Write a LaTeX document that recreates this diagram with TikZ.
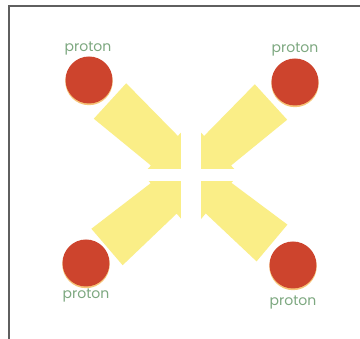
\documentclass[tikz,border=0pt]{standalone}
\usepackage{fontspec}
\setmainfont{Poppins}
\usetikzlibrary{calc}
\definecolor{arrowyellow}{RGB}{250,238,135}
\definecolor{protonred}{RGB}{205,68,45}
\definecolor{protonrim}{RGB}{246,196,120}
\definecolor{labelgreen}{RGB}{125,168,128}
\definecolor{framegray}{RGB}{95,95,95}
\tikzset{
  proton/.style={circle,fill=protonred,minimum size=47pt,inner sep=0pt},
  rim/.style={fill=protonrim},
  plabel/.style={text=labelgreen,inner sep=0pt,font=\fontsize{14}{16}\selectfont},
  bigarrow/.style={fill=arrowyellow},
  gap/.style={fill=white},
  frameline/.style={draw=framegray,line width=1.2pt}
}
\begin{document}
\begin{tikzpicture}[x=1pt,y=-1pt]
\useasboundingbox (0,0) rectangle (360,339);
\fill[white] (0,0) rectangle (360,339);
\draw[frameline] (9,339) -- (9,6) -- (360,6);
% centre and arrow tails
\coordinate (C) at (191,175);
\coordinate (tTL) at (110,101);
\coordinate (tTR) at (271,102);
\coordinate (tBL) at (107,247);
\coordinate (tBR) at (272,243);
\foreach \t in {tTL,tTR,tBL,tBR}{
  \path ($(C)!36pt!(\t)$) coordinate (N);
  \fill[bigarrow] ($(\t)!24pt!90:(C)$) -- ($(N)!20pt!90:(C)$) -- ($(N)!29pt!90:(C)$)
     -- (C) -- ($(N)!29pt!-90:(C)$) -- ($(N)!20pt!-90:(C)$) -- ($(\t)!24pt!-90:(C)$) -- cycle;
}
% white cross gap
\fill[gap] (181,115) rectangle (201,240);
\fill[gap] (125,169) rectangle (260,181);
% protons
\foreach \n/\x/\y in {pTL/89/80, pTR/295/82, pBL/86/263, pBR/293/265}{
  \fill[rim] (\x,\y+1.5) circle (23.7pt);
  \node[proton] (\n) at (\x,\y) {};
}
\node[plabel] (lTL) at (88,49) {proton};
\node[plabel] (lTR) at (295,50) {proton};
\node[plabel] (lBL) at (86,296) {proton};
\node[plabel] (lBR) at (293,303) {proton};
\end{tikzpicture}
\end{document}
